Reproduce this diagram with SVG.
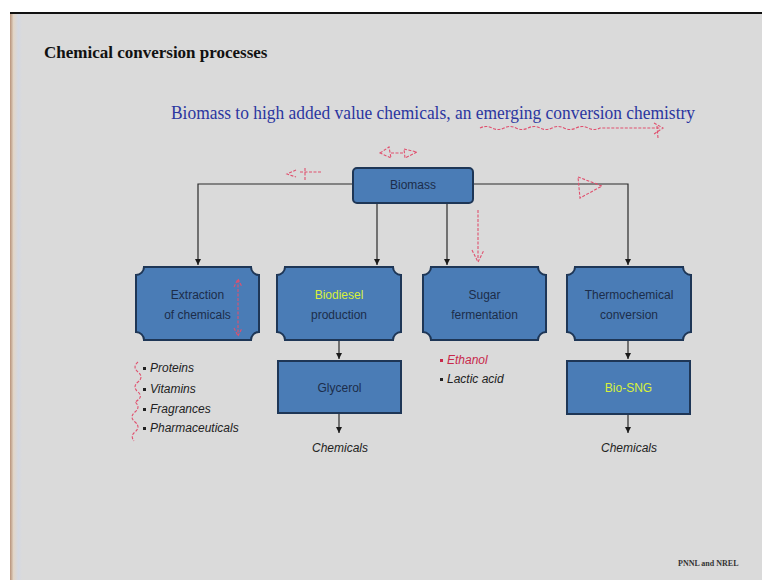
<svg xmlns="http://www.w3.org/2000/svg" width="762" height="580" viewBox="0 0 762 580">
  <defs>
    <marker id="ah" markerWidth="8" markerHeight="8" refX="6" refY="4" orient="auto" markerUnits="userSpaceOnUse">
      <path d="M0,1 L6,4 L0,7 Z" fill="#1a1a1a"/>
    </marker>
    <linearGradient id="lb" x1="0" x2="1" y1="0" y2="0">
      <stop offset="0" stop-color="#b8927a"/>
      <stop offset="0.3" stop-color="#e2d6c8"/>
      <stop offset="0.7" stop-color="#d4d8e2"/>
      <stop offset="1" stop-color="#dadada"/>
    </linearGradient>
  </defs>
  <style>
    .box { fill: #4a7cb6; stroke: #1e3656; stroke-width: 2; }
    .bt { font-family: "Liberation Sans", Arial, sans-serif; font-size: 12px; fill: #1c2d4a; text-anchor: middle; }
    .hl { fill: #d8f03a; }
    .li { font-family: "Liberation Sans", Arial, sans-serif; font-size: 12px; font-style: italic; fill: #222; }
    .conn { stroke: #2a2a2a; stroke-width: 1.2; fill: none; }
    .pen { stroke: #e0506e; stroke-width: 1.1; fill: none; stroke-dasharray: 3 1.5; }
  </style>
  <rect x="0" y="0" width="762" height="580" fill="#ffffff"/>
  <rect x="10" y="12" width="752" height="568" fill="#dadada"/>
  <rect x="10" y="12" width="12" height="568" fill="url(#lb)"/>
  <line x1="10" y1="13" x2="762" y2="13" stroke="#111" stroke-width="2"/>

  <text x="44" y="58" font-family="Liberation Serif, Times New Roman, serif" font-size="17" font-weight="bold" fill="#111">Chemical conversion processes</text>
  <text x="171" y="119" font-family="Liberation Serif, Times New Roman, serif" font-size="18" fill="#2b36a0" textLength="524" lengthAdjust="spacingAndGlyphs">Biomass to high added value chemicals, an emerging conversion chemistry</text>

  <g id="connectors">
    <path class="conn" d="M353,184 H198 V265" marker-end="url(#ah)"/>
    <path class="conn" d="M473,184 H628 V265" marker-end="url(#ah)"/>
    <path class="conn" d="M377,203 V265" marker-end="url(#ah)"/>
    <path class="conn" d="M447,203 V265" marker-end="url(#ah)"/>
    <path class="conn" d="M339,341 V359" marker-end="url(#ah)"/>
    <path class="conn" d="M339,414 V433" marker-end="url(#ah)"/>
    <path class="conn" d="M628,341 V359" marker-end="url(#ah)"/>
    <path class="conn" d="M628,414 V433" marker-end="url(#ah)"/>
  </g>

  <g id="biomass">
    <rect class="box" x="353" y="168" width="120" height="35" rx="4"/>
    <text class="bt" x="413" y="189" font-size="11">Biomass</text>
  </g>

  <g id="extraction">
    <path class="box" d="M144,267 H251 A8,8 0 0 0 259,275 V332 A8,8 0 0 0 251,340 H144 A8,8 0 0 0 136,332 V275 A8,8 0 0 0 144,267 Z"/>
    <text class="bt" x="197.5" y="299">Extraction</text>
    <text class="bt" x="197.5" y="319">of chemicals</text>
  </g>

  <g id="biodiesel">
    <path class="box" d="M285,267 H393 A8,8 0 0 0 401,275 V332 A8,8 0 0 0 393,340 H285 A8,8 0 0 0 277,332 V275 A8,8 0 0 0 285,267 Z"/>
    <text class="bt hl" x="339" y="299">Biodiesel</text>
    <text class="bt" x="339" y="319">production</text>
  </g>

  <g id="sugar">
    <path class="box" d="M431,267 H538 A8,8 0 0 0 546,275 V332 A8,8 0 0 0 538,340 H431 A8,8 0 0 0 423,332 V275 A8,8 0 0 0 431,267 Z"/>
    <text class="bt" x="484.5" y="299">Sugar</text>
    <text class="bt" x="484.5" y="319">fermentation</text>
  </g>

  <g id="thermochemical">
    <path class="box" d="M575,267 H683 A8,8 0 0 0 691,275 V332 A8,8 0 0 0 683,340 H575 A8,8 0 0 0 567,332 V275 A8,8 0 0 0 575,267 Z"/>
    <text class="bt" x="629" y="299">Thermochemical</text>
    <text class="bt" x="629" y="319">conversion</text>
  </g>

  <g id="glycerol">
    <rect class="box" x="278" y="361" width="123" height="52"/>
    <text class="bt" x="339.5" y="392">Glycerol</text>
  </g>

  <g id="biosng">
    <rect class="box" x="567" y="361" width="123" height="53"/>
    <text class="bt hl" x="628.5" y="392">Bio-SNG</text>
  </g>

  <g id="chemicals-left">
    <text class="li" x="340" y="452" text-anchor="middle">Chemicals</text>
  </g>
  <g id="chemicals-right">
    <text class="li" x="629" y="452" text-anchor="middle">Chemicals</text>
  </g>

  <g id="extraction-list">
    <rect x="143" y="367" width="3" height="3" fill="#222"/>
    <text class="li" x="150" y="372">Proteins</text>
    <rect x="143" y="388" width="3" height="3" fill="#222"/>
    <text class="li" x="150" y="393">Vitamins</text>
    <rect x="143" y="408" width="3" height="3" fill="#222"/>
    <text class="li" x="150" y="413">Fragrances</text>
    <rect x="143" y="427" width="3" height="3" fill="#222"/>
    <text class="li" x="150" y="432">Pharmaceuticals</text>
  </g>

  <g id="fermentation-list">
    <rect x="440" y="359" width="3" height="3" fill="#c8284a"/>
    <text class="li" x="447" y="364" fill="#c8284a" style="fill:#c8284a">Ethanol</text>
    <rect x="440" y="378" width="3" height="3" fill="#222"/>
    <text class="li" x="447" y="383">Lactic acid</text>
  </g>

  <g id="pen-marks">
    <path class="pen" d="M480,128 q6,-3 12,0 t12,0 t12,0 t12,0 t12,0 t12,0 t12,0 t12,0 t12,0 t12,0 H660"/>
    <path class="pen" d="M654,123 L663,128 L654,134 M657,126 L658,138"/>
    <path class="pen" d="M380,153 L389,147 L391,158 Z M391,153 H404 M404,149 L417,152 L405,158 Z"/>
    <path class="pen" d="M296,170 L287,174 L296,177 M300,172 H322 M305,168 V180"/>
    <path class="pen" d="M578,177 L602,186 L580,198 Z"/>
    <path class="pen" d="M478,210 V258 M472,250 L478,262 L484,250"/>
    <path class="pen" d="M238,280 V335 M234,287 L238,279 L242,287 M234,328 L238,336 L242,328"/>
    <path class="pen" d="M138,362 q-6,5 0,10 q6,5 0,10 q-6,5 0,10 q6,5 -3,10 q6,5 0,10 q-6,5 0,10 q6,5 0,10 q-5,4 -1,9"/>
  </g>

  <text x="678" y="566" font-family="Liberation Serif, Times New Roman, serif" font-size="8" font-weight="bold" fill="#333">PNNL and NREL</text>
</svg>
